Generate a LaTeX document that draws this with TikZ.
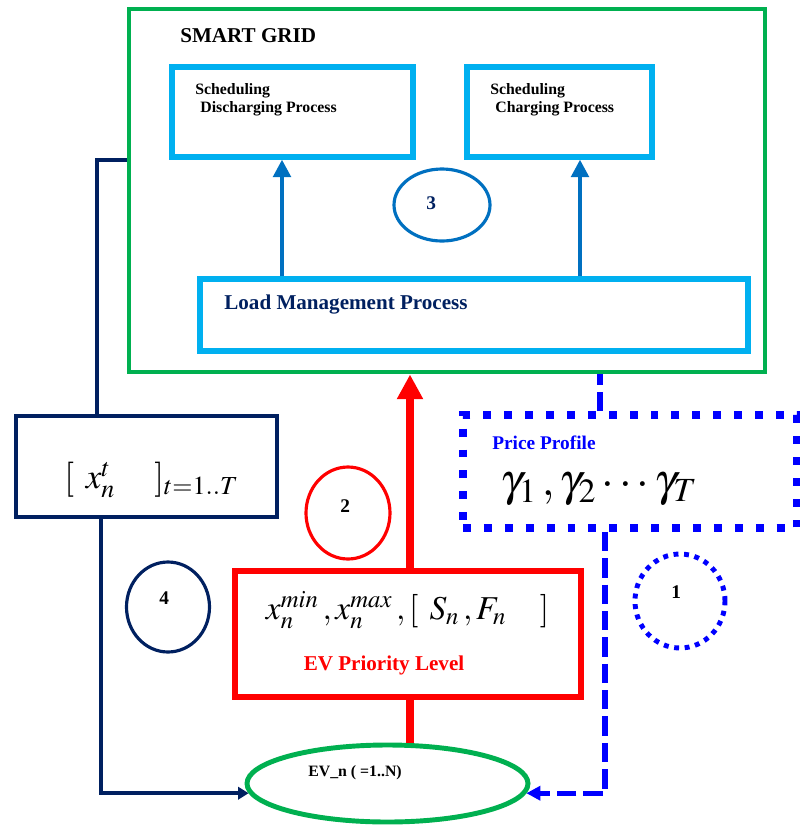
\documentclass[tikz,border=0pt]{standalone}
\usepackage{mathptmx}
\usepackage{fontspec}
\setmainfont{Liberation Serif}
\usetikzlibrary{arrows.meta,shapes.geometric}
\definecolor{gridgreen}{RGB}{0,176,80}
\definecolor{boxblue}{RGB}{0,176,240}
\definecolor{arrowblue}{RGB}{0,112,192}
\definecolor{navyblue}{RGB}{0,32,96}
\definecolor{priceblue}{RGB}{0,0,255}

\begin{document}
\begin{tikzpicture}[
    gridbox/.style={draw=gridgreen,line width=2.8pt,inner sep=0pt},
    procbox/.style={draw=boxblue,line width=3pt,inner sep=0pt},
    uparrow/.style={draw=arrowblue,line width=2.3pt,-{Triangle[length=10pt,width=10pt]}},
    navyline/.style={draw=navyblue,line width=2.2pt},
    bluedash/.style={draw=priceblue,line width=3pt,dash pattern=on 11pt off 4pt},
    numcircle/.style={ellipse,line width=1.8pt,inner sep=0pt},
    label/.style={anchor=west,inner sep=0pt,font=\bfseries\fontsize{9}{11}\selectfont}
  ]
    \useasboundingbox (0,0) rectangle (15.98,-16.56);

    \node[gridbox,minimum width=12.72cm,minimum height=7.26cm] (grid) at (8.94,-3.81) {};
    \node[procbox,minimum width=4.82cm,minimum height=1.8cm] (dis) at (5.85,-2.24) {};
    \node[procbox,minimum width=3.7cm,minimum height=1.8cm] (chg) at (11.19,-2.24) {};
    \node[procbox,minimum width=10.96cm,minimum height=1.44cm] (load) at (9.48,-6.3) {};
    \node[draw=navyblue,line width=2.2pt,inner sep=0pt,minimum width=5.22cm,minimum height=2.02cm] (navy) at (2.93,-9.33) {};
    \node[draw=priceblue,line width=4.5pt,dash pattern=on 4.5pt off 7.4pt,inner sep=0pt,minimum width=6.68cm,minimum height=2.26cm] (price) at (12.6,-9.43) {};
    \node[draw=red,line width=3.4pt,inner sep=0pt,minimum width=6.92cm,minimum height=2.52cm] (red) at (8.16,-12.68) {};
    \node[ellipse,draw=gridgreen,line width=2.8pt,inner sep=0pt,minimum width=5.62cm,minimum height=1.54cm] (ev) at (7.75,-15.67) {};

    \node[numcircle,draw=arrowblue,minimum width=1.92cm,minimum height=1.44cm] (c3) at (8.84,-4.1) {};
    \node[numcircle,draw=red,minimum width=1.68cm,minimum height=1.84cm] (c2) at (6.96,-10.26) {};
    \node[numcircle,draw=navyblue,minimum width=1.66cm,minimum height=1.8cm] (c4) at (3.36,-12.14) {};
    \node[numcircle,draw=priceblue,line width=2.8pt,dash pattern=on 2.8pt off 3.2pt,minimum width=1.8cm,minimum height=1.88cm] (c1) at (13.6,-12.02) {};

    \draw[uparrow] (load.north -| 5.64,0) -- (dis.south -| 5.64,0);
    \draw[uparrow] (load.north -| 11.6,0) -- (chg.south -| 11.6,0);
    \draw[red,line width=4pt,-{Triangle[length=14pt,width=14pt]}] (red.north -| 8.2,0) -- (grid.south -| 8.2,0);
    \draw[red,line width=4pt] (red.south -| 8.2,0) -- (ev.north -| 8.2,0);
    \draw[navyline] ([xshift=-0.99cm]navy.north) |- ([yshift=0.61cm]grid.west);
    \draw[navyline,-{Triangle[length=6pt,width=7pt]}] ([xshift=-0.91cm]navy.south) |- (ev.184);
    \draw[bluedash] (price.north -| 12,0) -- (grid.south -| 12,0);
    \draw[bluedash,-{Triangle[length=8pt,width=8pt]}] (price.south -| 12.1,0) |- (ev.-4);

    \node[label,font=\bfseries\fontsize{12}{14}\selectfont] (title) at (3.6,-0.72) {SMART GRID};
    \node[label,anchor=north west,align=left] (distxt) at (3.9,-1.66) {Scheduling\\[-0.5pt]\hspace{0.1cm}Discharging Process};
    \node[label,anchor=north west,align=left] (chgtxt) at (9.8,-1.66) {Scheduling\\[-0.5pt]\hspace{0.1cm}Charging Process};
    \node[label,text=navyblue,font=\bfseries\fontsize{12}{14}\selectfont] (loadtxt) at (4.48,-6.1) {Load Management Process};
    \node[label,text=priceblue,font=\bfseries\fontsize{11}{13}\selectfont] (pricetxt) at (9.84,-8.86) {Price Profile};
    \node[label,font=\fontsize{26}{29}\selectfont] (gamma) at (10.0,-9.78) {$\gamma_1\,,\gamma_2\cdots\gamma_T$};
    \node[label,font=\fontsize{20}{23}\selectfont] (xt) at (1.28,-9.6) {$[\;\,x_n^t\quad\,]_{t=1..T}$};
    \node[font=\fontsize{19}{22}\selectfont,inner sep=0pt] (xminmax) at (8.15,-12.2) {$x_n^{min}\,,x_n^{max}\,,[\;\,S_n\,,F_n\quad]$};
    \node[text=red,font=\bfseries\fontsize{12}{14}\selectfont,inner sep=0pt] (prio) at (7.68,-13.3) {EV Priority Level};
    \node[label,font=\bfseries\fontsize{9}{11}\selectfont] (evtxt) at (6.16,-15.46) {EV\_n ( =1..N)};

    \node[label,text=navyblue,font=\bfseries\fontsize{11}{13}\selectfont] (n3) at (8.52,-4.06) {3};
    \node[label,font=\bfseries\fontsize{11}{13}\selectfont] (n2) at (6.8,-10.12) {2};
    \node[label,font=\bfseries\fontsize{11}{13}\selectfont] (n4) at (3.18,-11.96) {4};
    \node[label,font=\bfseries\fontsize{11}{13}\selectfont] (n1) at (13.42,-11.84) {1};
\end{tikzpicture}
\end{document}
